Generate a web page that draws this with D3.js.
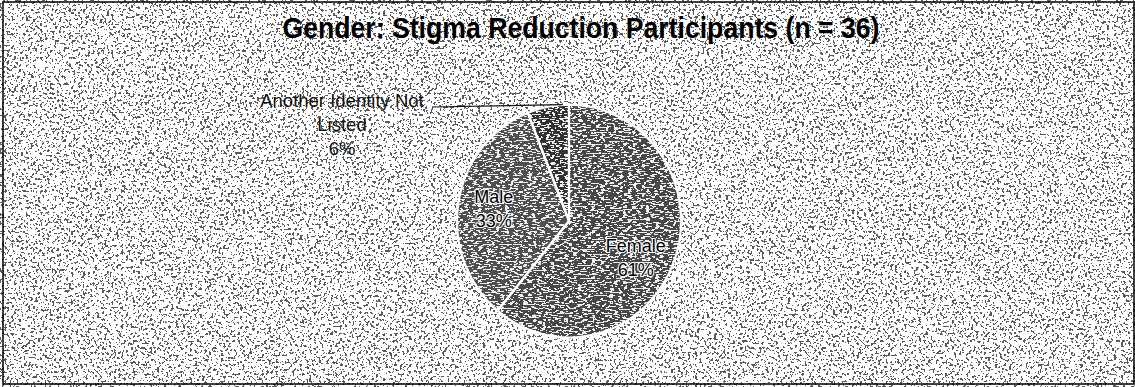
<!DOCTYPE html>
<html>
<head>
<meta charset="utf-8">
<script src="https://cdn.jsdelivr.net/npm/d3@7"></script>
<style>
  html, body { margin: 0; padding: 0; background: #ffffff; }
  svg { display: block; }
  text { font-family: "Liberation Sans", Arial, sans-serif; fill: #111; }
</style>
</head>
<body>
<svg id="chart" width="1135" height="387"></svg>
<script>
// ---- data ----
const titleText = "Gender: Stigma Reduction Participants (n = 36)";
const categories = ["Female", "Male", "Another Identity Not Listed"];
const values = [61, 33, 6];
const labelLines = [["Female", "61%"], ["Male", "33%"], ["Another Identity Not", "Listed", "6%"]];
const sliceColors = ["#474747", "#505050", "#333333"];

// ---- layout ----
const W = 1135, H = 387;
const cx = 569, cy = 221, R = 112, yStretch = 1.04;

const svg = d3.select("#chart");
const defs = svg.append("defs");

// background dither: white with scattered black dots
const fb = defs.append("filter").attr("id", "bgDither")
  .attr("filterUnits", "userSpaceOnUse")
  .attr("x", 0).attr("y", 0).attr("width", W).attr("height", H);
fb.append("feTurbulence").attr("type", "fractalNoise").attr("baseFrequency", 0.42)
  .attr("numOctaves", 2).attr("seed", 7).attr("result", "noise");
fb.append("feColorMatrix").attr("in", "noise").attr("type", "matrix")
  .attr("values", "0 0 0 0 0  0 0 0 0 0  0 0 0 0 0  1 0 0 0 0").attr("result", "a");
const ct = fb.append("feComponentTransfer").attr("in", "a").attr("result", "dots");
ct.append("feFuncA").attr("type", "discrete").attr("tableValues", d3.range(20).map(i => i < 12 ? 0 : 0.9).join(" "));
fb.append("feFlood").attr("flood-color", "#000").attr("result", "black");
fb.append("feComposite").attr("in", "black").attr("in2", "dots").attr("operator", "in").attr("result", "blackDots");
const mb = fb.append("feMerge");
mb.append("feMergeNode").attr("in", "SourceGraphic");
mb.append("feMergeNode").attr("in", "blackDots");

// pie dither: dark with light streaks
const fp = defs.append("filter").attr("id", "pieDither")
  .attr("x", -0.05).attr("y", -0.05).attr("width", 1.1).attr("height", 1.1);
fp.append("feTurbulence").attr("type", "fractalNoise").attr("baseFrequency", "0.22 0.8")
  .attr("numOctaves", 2).attr("seed", 3).attr("result", "noise");
fp.append("feColorMatrix").attr("in", "noise").attr("type", "matrix")
  .attr("values", "0 0 0 0 0  0 0 0 0 0  0 0 0 0 0  1 0 0 0 0").attr("result", "a");
const ct2 = fp.append("feComponentTransfer").attr("in", "a").attr("result", "dots");
ct2.append("feFuncA").attr("type", "discrete").attr("tableValues", d3.range(20).map(i => i < 11 ? 0 : 0.85).join(" "));
fp.append("feFlood").attr("flood-color", "#ffffff").attr("result", "white");
fp.append("feComposite").attr("in", "white").attr("in2", "dots").attr("operator", "in").attr("result", "wDots");
const mp = fp.append("feMerge").attr("result", "merged");
mp.append("feMergeNode").attr("in", "SourceGraphic");
mp.append("feMergeNode").attr("in", "wDots");
fp.append("feComposite").attr("in", "merged").attr("in2", "SourceAlpha").attr("operator", "in");

// background
svg.append("rect").attr("x", 0).attr("y", 0).attr("width", W).attr("height", H)
  .attr("fill", "#ffffff").attr("filter", "url(#bgDither)");

// border
svg.append("rect").attr("x", 3).attr("y", 2).attr("width", 1131).attr("height", 382)
  .attr("fill", "none").attr("stroke", "#000").attr("stroke-width", 1.5);

// title
svg.append("text").attr("x", 581).attr("y", 38).attr("text-anchor", "middle")
  .attr("font-size", 30).attr("font-weight", "bold")
  .attr("textLength", 597).attr("lengthAdjust", "spacingAndGlyphs")
  .style("fill", "#000")
  .text(titleText);

// pie
const pie = d3.pie().sort(null).value(d => d)(values);
const arc = d3.arc().innerRadius(0).outerRadius(R);
const g = svg.append("g").attr("transform", `translate(${cx},${cy}) scale(1,${yStretch})`);

g.append("g").attr("filter", "url(#pieDither)")
  .selectAll("path").data(pie).join("path")
  .attr("d", arc)
  .attr("fill", (d, i) => sliceColors[i]);

g.selectAll("path.sep").data(pie).join("path").attr("class", "sep")
  .attr("d", arc)
  .attr("fill", "none").attr("stroke", "#ffffff").attr("stroke-width", 2.2)
  .attr("stroke-linejoin", "round");

// inner labels (Female, Male)
const labelArc = d3.arc().innerRadius(R * 0.68).outerRadius(R * 0.68);
const labelNudge = [[-5, 9], [0, -1]];
[0, 1].forEach(i => {
  const [lx, ly] = labelArc.centroid(pie[i]);
  const t = svg.append("text").attr("text-anchor", "middle").attr("font-size", 18)
    .style("fill", "#000")
    .attr("stroke", "#ffffff").attr("stroke-width", 2.2).attr("paint-order", "stroke")
    .attr("stroke-linejoin", "round")
    .attr("x", cx + lx + labelNudge[i][0]).attr("y", cy + ly * yStretch + labelNudge[i][1]);
  labelLines[i].forEach((s, k) => {
    t.append("tspan").attr("x", cx + lx + labelNudge[i][0]).attr("dy", k === 0 ? "-0.25em" : "1.3em").text(s);
  });
});

// outside label with leader line (Another Identity Not Listed)
const a = pie[2];
const tipAngle = a.startAngle + (a.endAngle - a.startAngle) * 0.85;
const tip = d3.pointRadial(tipAngle, R);
const outX = 342, outY = 107;
const ot = svg.append("text").attr("text-anchor", "middle").attr("font-size", 18.5).style("fill", "#111");
labelLines[2].forEach((s, k) => {
  ot.append("tspan").attr("x", outX).attr("y", outY + k * 24).text(s);
});
svg.append("line")
  .attr("x1", 432).attr("y1", outY)
  .attr("x2", cx + tip[0]).attr("y2", cy + tip[1] * yStretch)
  .attr("stroke", "#111").attr("stroke-width", 1.2);
</script>
</body>
</html>
